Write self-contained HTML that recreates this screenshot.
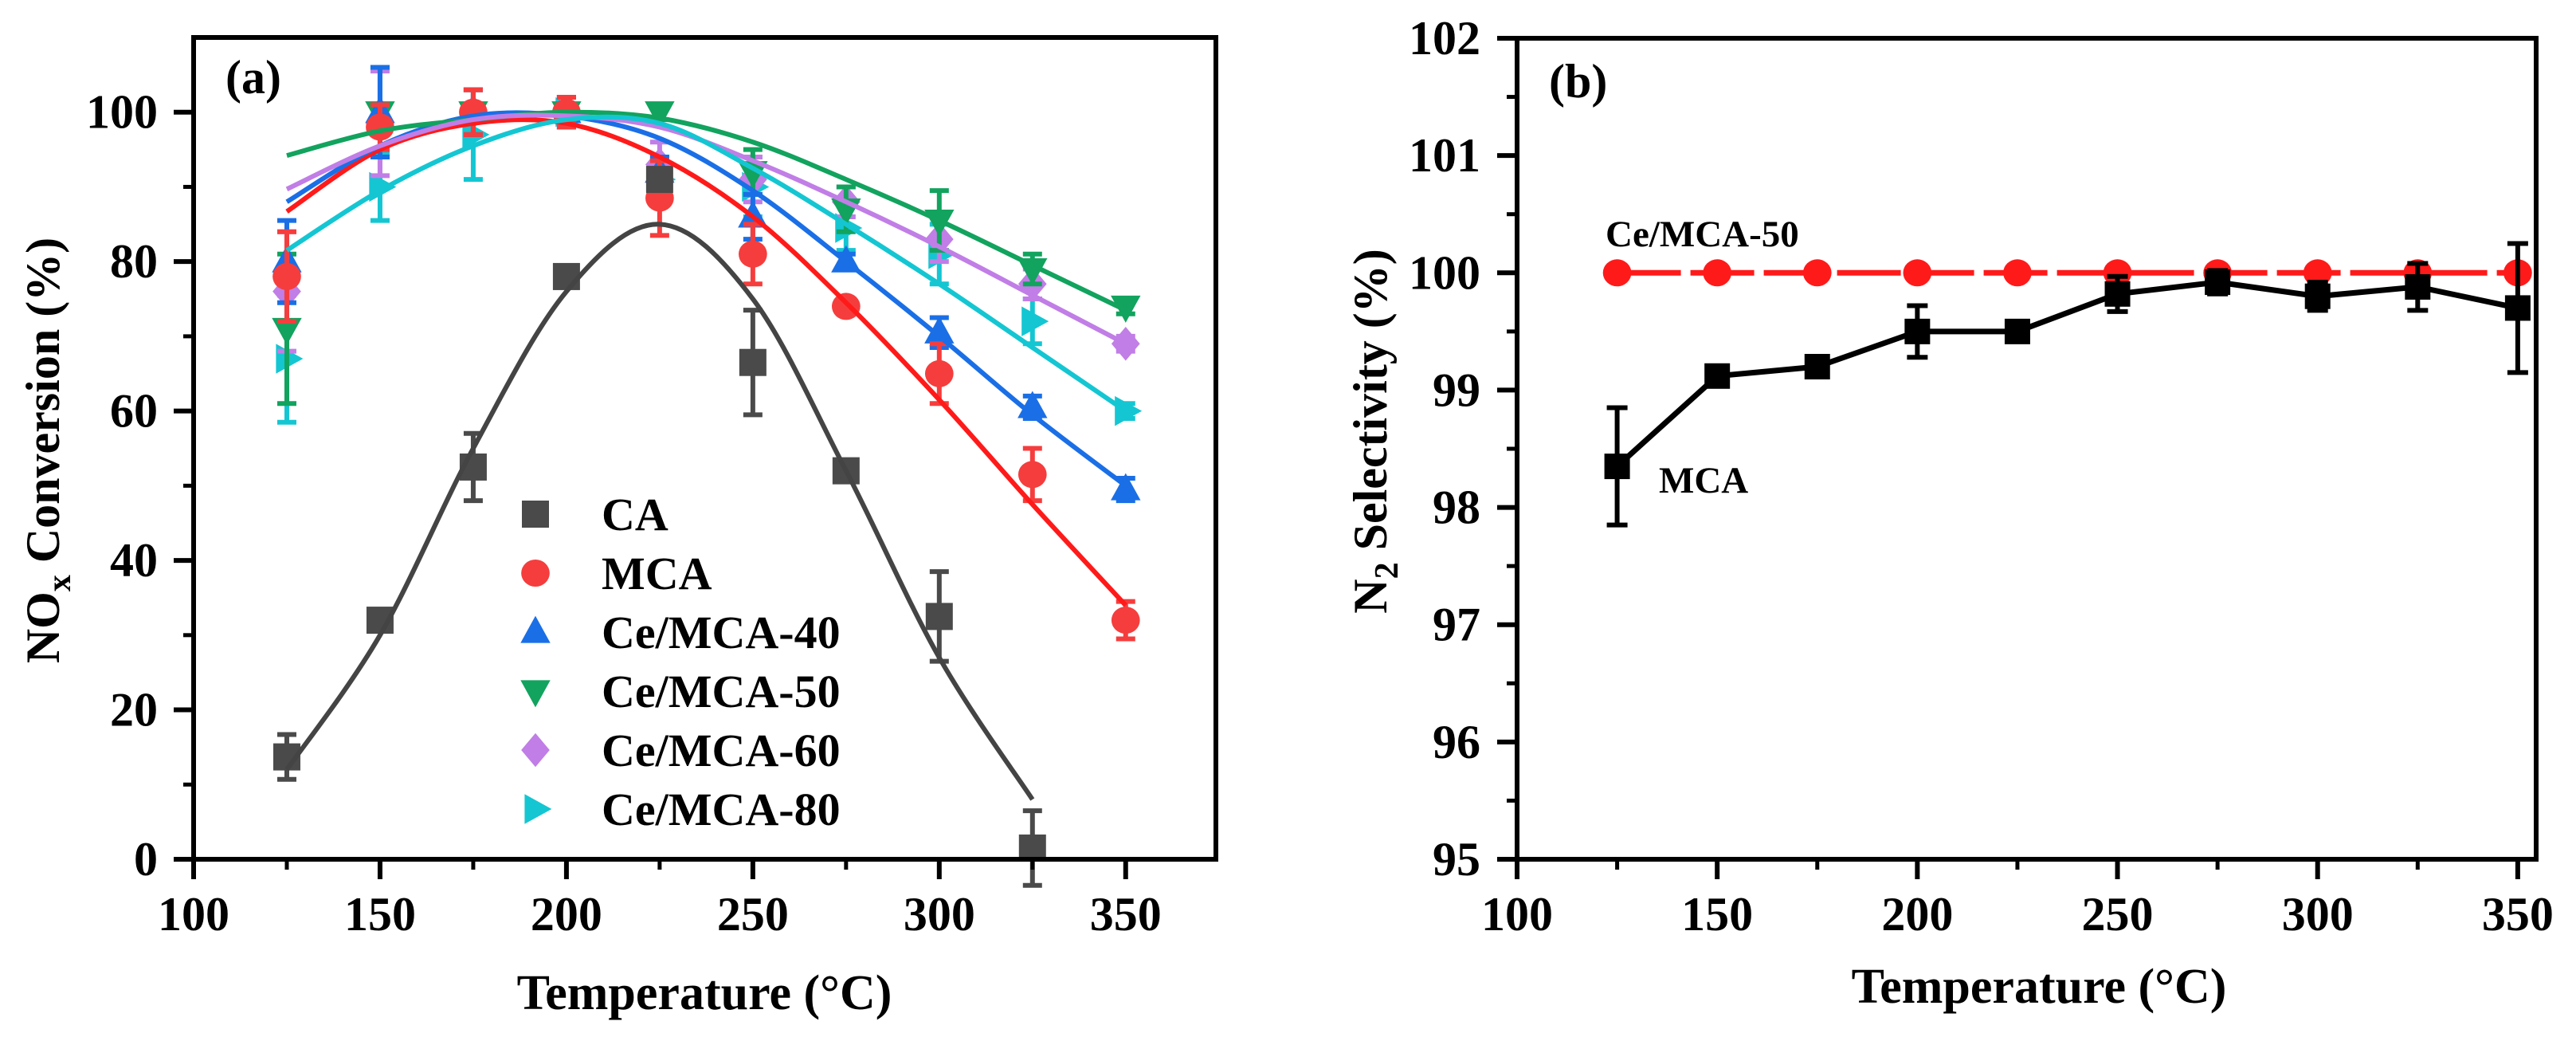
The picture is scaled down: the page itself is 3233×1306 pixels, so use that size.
<!DOCTYPE html>
<html><head><meta charset="utf-8"><style>
html,body{margin:0;padding:0;background:#fff;}
svg{display:block;}
text{font-family:"Liberation Serif","DejaVu Serif",serif;font-weight:bold;fill:#000;}
</style></head><body>
<svg id="fig" width="3233" height="1306" viewBox="0 0 3233 1306" xmlns="http://www.w3.org/2000/svg">
<g id="pa"></g>
<g id="pb"></g>
</svg>
<script>
// ---------- Panel (a) data ----------
const temps = [125,150,175,200,225,250,275,300,325,350];
const caVals = [13.7,32,52.5,78,91,66.5,52,32.5,1.5,null];
const caErr  = [3,1,4.5,1,1,7,1,6,5,0];
const mcaVals = [78,98,100,100,88.5,81,74,65,51.5,32];
const mcaErr  = [6,3,3,2,5,4,1,4,3.5,2.5];
const ce40Vals = [80,100,100,100,92,86,80,70.5,60.5,49.5];
const ce40Err  = [5.5,6,3,2,2,3,1,2,1.5,1.5];
const ce50Vals = [71,100,100,100,100,92,87,85.5,79,74];
const ce50Err  = [10,6,3,1,1,3,3,4,2,1];
const ce60Vals = [76,98.5,100,100,93,91,88,83,77,69];
const ce60Err  = [8,7,3,2,3,3,2,3,2,1];
const ce80Vals = [67,90,97,100,91,90,84.5,81,72,60];
const ce80Err  = [8.5,4.5,6,1,3,4,3,4,3,1];
// fitted-curve values at fitTemps
const fitTemps = [125,150,175,200,225,250,275,300,325,350];
const caFit  = [12,30,55,76,85,75,52,27,8,null];
const mcaFit = [86.7,95,98.5,98.5,94,86,74.5,61.5,47.5,34];
const ce40Fit = [88,95.5,99.5,99.5,96.5,89.5,80,70,59.5,50];
const ce50Fit = [94.2,97.5,99,100,99.2,96,91,85.5,79.5,73.5];
const ce60Fit = [89.7,95.5,99,99.5,98,93.5,88,82,75.5,69];
const ce80Fit = [81.5,89.5,95.5,99,98.5,92.5,85,77,68.5,60];
const xTicksA = [100,150,200,250,300,350];
const yTicksA = [0,20,40,60,80,100];
const legendNames = ["CA","MCA","Ce/MCA-40","Ce/MCA-50","Ce/MCA-60","Ce/MCA-80"];
// ---------- Panel (b) data ----------
const tempsB = [125,150,175,200,225,250,275,300,325,350];
const mcaSel = [98.35,99.12,99.2,99.5,99.5,99.82,99.92,99.8,99.88,99.7];
const mcaSelErr = [0.5,0.05,0.05,0.22,0.05,0.15,0.1,0.12,0.2,0.55];
const ce50Sel = [100,100,100,100,100,100,100,100,100,100];
const xTicksB = [100,150,200,250,300,350];
const yTicksB = [95,96,97,98,99,100,101,102];

const NS="http://www.w3.org/2000/svg";
function mk(tag,attrs,parent){const e=document.createElementNS(NS,tag);for(const k in attrs)e.setAttribute(k,attrs[k]);parent.appendChild(e);return e;}
function txt(s,attrs,parent){const e=mk('text',attrs,parent);e.textContent=s;return e;}

function marker(g,shape,cx,cy,r,color){
  let e;
  if(shape==='square') e=mk('rect',{x:cx-r,y:cy-r,width:2*r,height:2*r,fill:color},g);
  else if(shape==='circle') e=mk('ellipse',{cx:cx,cy:cy,rx:r*1.05,ry:r,fill:color},g);
  else if(shape==='up') e=mk('polygon',{points:`${cx},${cy-r*1.2} ${cx-r*1.1},${cy+r*0.8} ${cx+r*1.1},${cy+r*0.8}`,fill:color},g);
  else if(shape==='down') e=mk('polygon',{points:`${cx},${cy+r*1.2} ${cx-r*1.1},${cy-r*0.8} ${cx+r*1.1},${cy-r*0.8}`,fill:color},g);
  else if(shape==='diamond') e=mk('polygon',{points:`${cx},${cy-r*1.25} ${cx+r*1.05},${cy} ${cx},${cy+r*1.25} ${cx-r*1.05},${cy}`,fill:color},g);
  else if(shape==='right') e=mk('polygon',{points:`${cx+r*1.2},${cy} ${cx-r*0.8},${cy-r*1.1} ${cx-r*0.8},${cy+r*1.1}`,fill:color},g);
  return e;
}
function smoothPath(pts){
  let d=`M${pts[0][0]},${pts[0][1]}`;
  for(let i=0;i<pts.length-1;i++){
    const p0=pts[i-1]||pts[i],p1=pts[i],p2=pts[i+1],p3=pts[i+2]||p2;
    const c1x=p1[0]+(p2[0]-p0[0])/6,c1y=p1[1]+(p2[1]-p0[1])/6;
    const c2x=p2[0]-(p3[0]-p1[0])/6,c2y=p2[1]-(p3[1]-p1[1])/6;
    d+=` C${c1x},${c1y} ${c2x},${c2y} ${p2[0]},${p2[1]}`;
  }
  return d;
}

// ===== Panel A =====
(function(){
  const g=document.getElementById('pa');
  const L=243,R=1526,T=47,B=1078;
  const xMin=100,xMax=374.2,yMin=0,yMax=110;
  const X=v=>L+(v-xMin)/(xMax-xMin)*(R-L);
  const Y=v=>B-(v-yMin)/(yMax-yMin)*(B-T);
  const series=[
    {name:'CA',vals:caVals,err:caErr,fit:caFit,color:'#4a4a4a',line:'#444',shape:'square'},
    {name:'MCA',vals:mcaVals,err:mcaErr,fit:mcaFit,color:'#f53d3d',line:'#ff1a1a',shape:'circle'},
    {name:'Ce/MCA-40',vals:ce40Vals,err:ce40Err,fit:ce40Fit,color:'#1a6fe6',line:'#1a6fe6',shape:'up'},
    {name:'Ce/MCA-50',vals:ce50Vals,err:ce50Err,fit:ce50Fit,color:'#12a35e',line:'#12a35e',shape:'down'},
    {name:'Ce/MCA-60',vals:ce60Vals,err:ce60Err,fit:ce60Fit,color:'#c17ee6',line:'#c17ee6',shape:'diamond'},
    {name:'Ce/MCA-80',vals:ce80Vals,err:ce80Err,fit:ce80Fit,color:'#14c6d2',line:'#14c6d2',shape:'right'}
  ];
  const order=[5,4,3,2,1,0];
  order.forEach(si=>{
    const s=series[si];
    const sg=mk('g',{},g);
    
    
    temps.forEach((t,i)=>{
      const v=s.vals[i]; if(v==null) return;
      const cx=X(t),e=s.err[i];
      if(e>0){
        const eb=mk('path',{d:`M${cx},${Y(v-e)}V${Y(v+e)}M${cx-12},${Y(v-e)}H${cx+12}M${cx-12},${Y(v+e)}H${cx+12}`,stroke:s.color,'stroke-width':6,fill:'none'},sg);
        
        
      }
      const m=marker(sg,s.shape,cx,Y(v),17,s.color);
      
      
    });
  });
  series.forEach(s=>{
    const pts=[];fitTemps.forEach((t,i)=>{if(s.fit[i]!=null)pts.push([X(t),Y(s.fit[i])]);});
    const p=mk('path',{d:smoothPath(pts),stroke:s.line,'stroke-width':6,fill:'none'},g);
    
    
  });
  const ax=mk('rect',{x:L,y:T,width:R-L,height:B-T,fill:'none',stroke:'#000','stroke-width':6},g);
  
  
  xTicksA.forEach(v=>{
    mk('line',{x1:X(v),x2:X(v),y1:B,y2:B+25,stroke:'#000','stroke-width':6},g);
    const t=txt(String(v),{x:X(v),y:1167,'font-size':60,'text-anchor':'middle'},g);
    
    
    if(v+25<xMax) mk('line',{x1:X(v+25),x2:X(v+25),y1:B,y2:B+13,stroke:'#000','stroke-width':5},g);
  });
  yTicksA.forEach(v=>{
    mk('line',{x1:L-25,x2:L,y1:Y(v),y2:Y(v),stroke:'#000','stroke-width':6},g);
    const t=txt(String(v),{x:198,y:Y(v)+20,'font-size':60,'text-anchor':'end'},g);
    
    
    if(v+10<yMax) mk('line',{x1:L-13,x2:L,y1:Y(v+10),y2:Y(v+10),stroke:'#000','stroke-width':5},g);
  });
  const pl=txt('(a)',{x:283,y:117,'font-size':60},g);
  
  
  const xt=txt('Temperature (°C)',{x:884,y:1266,'font-size':62,'text-anchor':'middle'},g);
  
  
  const yt=mk('text',{transform:'translate(74,565) rotate(-90)','font-size':60,'text-anchor':'middle'},g);
  yt.innerHTML='NO<tspan font-size="42" dy="14">x</tspan><tspan dy="-14"> Conversion (%)</tspan>';
  
  
  const lg=mk('g',{},g);
  
  
  series.forEach((s,i)=>{
    const y=645+i*74;
    const e=mk('g',{},lg);
    
    
    marker(e,s.shape,672,y,17,s.color);
    txt(legendNames[i],{x:755,y:y+20,'font-size':58},e);
  });
})();

// ===== Panel B =====
(function(){
  const g=document.getElementById('pb');
  const L=1904,R=3183,T=48,B=1078;
  const xMin=100,xMax=354.6,yMin=95,yMax=102;
  const X=v=>L+(v-xMin)/(xMax-xMin)*(R-L);
  const Y=v=>B-(v-yMin)/(yMax-yMin)*(B-T);
  const cg=mk('g',{},g);
  
  
  const pts=tempsB.map((t,i)=>`${X(t)},${Y(ce50Sel[i])}`).join(' ');
  mk('polyline',{points:pts,fill:'none',stroke:'#ff1a1a','stroke-width':7,'stroke-dasharray':'80 12'},cg);
  const mg=mk('g',{},g);
  
  
  const mp=tempsB.map((t,i)=>`${X(t)},${Y(mcaSel[i])}`).join(' ');
  mk('polyline',{points:mp,fill:'none',stroke:'#000','stroke-width':7},mg);
  tempsB.forEach((t,i)=>{
    const cx=X(t),v=mcaSel[i],e=mcaSelErr[i];
    const eb=mk('path',{d:`M${cx},${Y(v-e)}V${Y(v+e)}M${cx-13},${Y(v-e)}H${cx+13}M${cx-13},${Y(v+e)}H${cx+13}`,stroke:'#000','stroke-width':6,fill:'none'},mg);
    
    
    const m=marker(mg,'square',cx,Y(v),16,'#000');
    
    
  });
  tempsB.forEach((t,i)=>{
    const m=marker(cg,'circle',X(t),Y(ce50Sel[i]),17,'#ff1a1a');
    
    
  });
  const ax=mk('rect',{x:L,y:T,width:R-L,height:B-T,fill:'none',stroke:'#000','stroke-width':6},g);
  
  
  xTicksB.forEach(v=>{
    mk('line',{x1:X(v),x2:X(v),y1:B,y2:B+25,stroke:'#000','stroke-width':6},g);
    const t=txt(String(v),{x:X(v),y:1167,'font-size':60,'text-anchor':'middle'},g);
    
    
    if(v+25<xMax) mk('line',{x1:X(v+25),x2:X(v+25),y1:B,y2:B+13,stroke:'#000','stroke-width':5},g);
  });
  yTicksB.forEach(v=>{
    mk('line',{x1:L-25,x2:L,y1:Y(v),y2:Y(v),stroke:'#000','stroke-width':6},g);
    const t=txt(String(v),{x:1858,y:Y(v)+20,'font-size':60,'text-anchor':'end'},g);
    
    
    if(v+0.5<yMax) mk('line',{x1:L-13,x2:L,y1:Y(v+0.5),y2:Y(v+0.5),stroke:'#000','stroke-width':5},g);
  });
  const pl=txt('(b)',{x:1944,y:122,'font-size':60},g);
  
  
  const l1=txt('Ce/MCA-50',{x:2015,y:309,'font-size':47},g);
  
  
  const l2=txt('MCA',{x:2082,y:618,'font-size':47},g);
  
  
  const xt=txt('Temperature (°C)',{x:2559,y:1258,'font-size':62,'text-anchor':'middle'},g);
  
  
  const yt=mk('text',{transform:'translate(1740,541) rotate(-90)','font-size':60,'text-anchor':'middle'},g);
  yt.innerHTML='N<tspan font-size="42" dy="14">2</tspan><tspan dy="-14"> Selectivity (%)</tspan>';
  
  
})();
</script>
</body></html>
